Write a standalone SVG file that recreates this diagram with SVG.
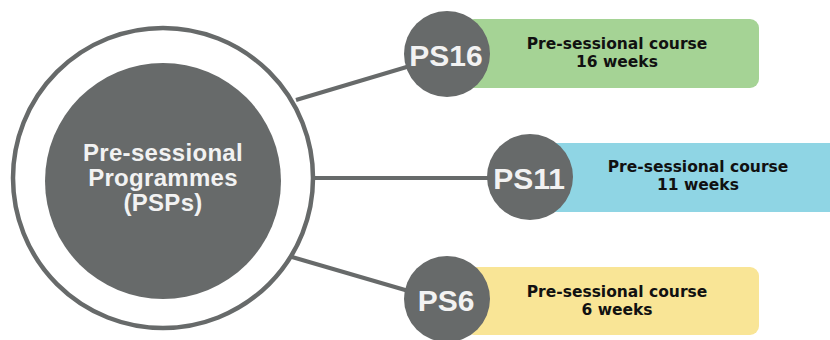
<svg xmlns="http://www.w3.org/2000/svg" width="830" height="340" viewBox="0 0 830 340">
<style>
.gray{fill:#676a6a}
.conn{stroke:#676a6a;stroke-width:4;fill:none}
.main{font-family:"Liberation Sans",Arial,sans-serif;font-weight:bold;font-size:24px;fill:#f2f2f2;text-anchor:middle;letter-spacing:0.3px}
.ps{font-family:"Liberation Sans",Arial,sans-serif;font-weight:bold;font-size:30px;fill:#f2f2f2;text-anchor:middle}
.lbl{font-family:"DejaVu Sans",sans-serif;font-weight:bold;font-size:15.5px;fill:#111;text-anchor:middle}
</style>
<rect width="830" height="340" fill="#ffffff"/>
<g id="connectors">
<line class="conn" x1="296" y1="100" x2="410" y2="66"/>
<line class="conn" x1="300" y1="178" x2="495" y2="178"/>
<line class="conn" x1="292" y1="257" x2="412" y2="292"/>
</g>
<g id="center">
<circle cx="163" cy="178" r="150" fill="#ffffff" stroke="#676a6a" stroke-width="4.5"/>
<circle class="gray" cx="163" cy="181" r="118"/>
<text class="main" x="163" y="161">Pre-sessional</text>
<text class="main" x="163" y="186">Programmes</text>
<text class="main" x="163" y="211">(PSPs)</text>
</g>
<g id="ps16">
<rect x="465" y="19" width="294" height="69" rx="9" fill="#a5d395"/>
<circle class="gray" cx="447" cy="54" r="43"/>
<text class="ps" x="446" y="66">PS16</text>
<text class="lbl" x="617" y="49">Pre-sessional course</text>
<text class="lbl" x="617" y="67">16 weeks</text>
</g>
<g id="ps11">
<rect x="550" y="143" width="290" height="69" fill="#8fd5e4"/>
<circle class="gray" cx="530" cy="177" r="43"/>
<text class="ps" x="529" y="189">PS11</text>
<text class="lbl" x="698" y="172">Pre-sessional course</text>
<text class="lbl" x="698" y="190">11 weeks</text>
</g>
<g id="ps6">
<rect x="465" y="267" width="294" height="68" rx="9" fill="#f9e596"/>
<circle class="gray" cx="447" cy="299" r="43"/>
<text class="ps" x="446" y="311">PS6</text>
<text class="lbl" x="617" y="297">Pre-sessional course</text>
<text class="lbl" x="617" y="315">6 weeks</text>
</g>
</svg>
